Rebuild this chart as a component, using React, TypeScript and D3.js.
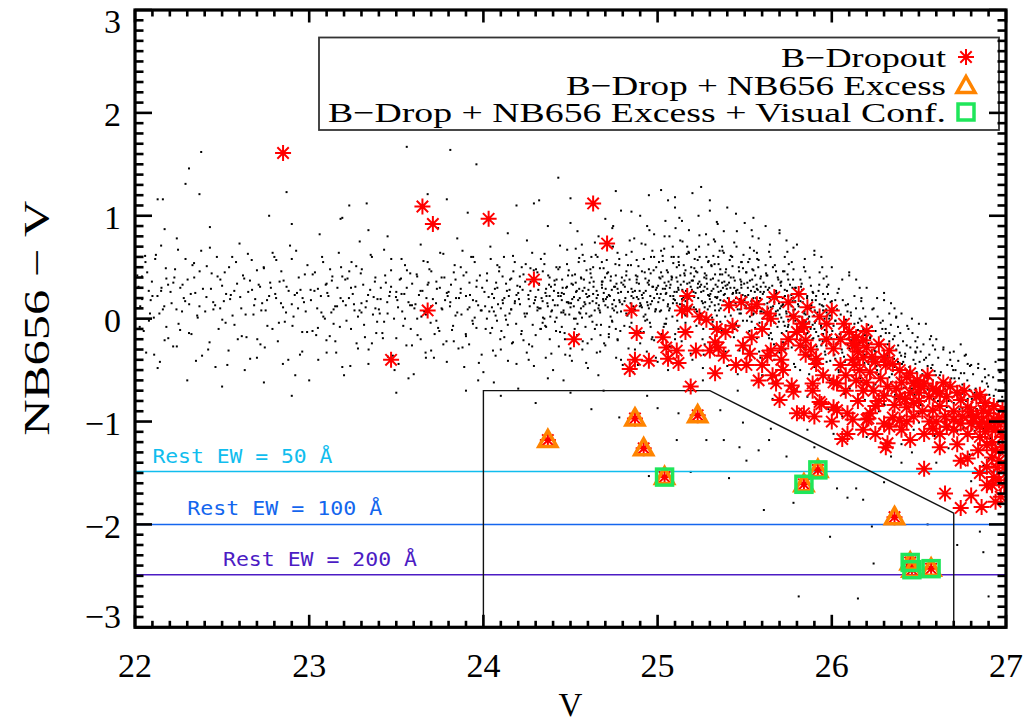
import React from "react";
import * as d3 from "d3";

// ---------- data (V, NB656 - V) ----------
const xTicks = [22, 23, 24, 25, 26, 27];
const yTicks = [-3, -2, -1, 0, 1, 2, 3];

// background field galaxies, flat [V, colour, V, colour, ...]
const fieldBright = [
22.02,0.31,22.05,-0.12,22.07,0.45,22.09,0.18,22.11,-0.35,22.12,0.62,22.14,0.05,22.15,0.27,22.17,-0.21,22.18,0.39,22.03,0.12,22.06,0.55,22.1,0.22,22.13,-0.48,22.16,0.09,22.19,0.33,22.08,-0.02,22.04,0.41,22.15,0.71,22.18,-0.08,
22.21,0.15,22.23,0.48,22.24,-0.27,22.26,0.3,22.27,0.07,22.29,0.58,22.31,-0.14,22.32,0.24,22.34,0.4,22.35,-0.41,22.37,0.12,22.38,0.66,22.22,0.35,22.25,-0.05,22.28,0.2,22.3,-0.6,22.33,0.52,22.36,0.01,22.39,0.29,22.24,0.78,
22.41,0.21,22.42,-0.3,22.44,0.44,22.45,0.09,22.47,0.6,22.48,-0.1,22.5,0.32,22.51,0.17,22.53,-0.45,22.54,0.5,22.56,0.03,22.57,0.27,22.59,-0.2,22.43,0.69,22.46,0.13,22.49,0.38,22.52,-0.04,22.55,0.23,22.58,0.55,22.5,-0.66,
22.61,0.1,22.62,0.42,22.64,-0.18,22.65,0.26,22.67,0.57,22.68,0.04,22.7,-0.38,22.71,0.33,22.73,0.15,22.74,0.49,22.76,-0.07,22.77,0.22,22.79,0.64,22.63,-0.5,22.66,0.37,22.69,0.19,22.72,-0.25,22.75,0.08,22.78,0.3,22.6,0.73,22.7,0.47,22.74,-0.62,
22.81,0.2,22.82,-0.22,22.84,0.46,22.85,0.11,22.87,0.31,22.88,-0.4,22.9,0.58,22.91,0.02,22.93,0.25,22.94,0.4,22.96,-0.13,22.97,0.16,22.99,0.52,22.83,0.36,22.86,-0.03,22.89,0.71,22.92,-0.55,22.95,0.28,22.98,0.07,22.8,0.6,22.9,0.14,22.96,-0.32,
23.01,0.18,23.02,0.43,23.04,-0.16,23.05,0.29,23.07,0.06,23.08,0.55,23.1,-0.33,23.11,0.22,23.13,0.37,23.14,-0.05,23.16,0.12,23.17,0.64,23.19,-0.47,23.03,0.27,23.06,0.82,23.09,0.0,23.12,0.48,23.15,-0.22,23.18,0.2,23.0,-0.6,23.1,0.34,23.14,0.09,23.19,0.41,23.05,-0.09,
23.21,0.13,23.22,0.39,23.24,-0.1,23.25,0.24,23.27,0.51,23.28,-0.29,23.3,0.06,23.31,0.33,23.33,0.17,23.34,-0.44,23.36,0.6,23.37,0.21,23.39,-0.03,23.23,0.46,23.26,0.08,23.29,0.75,23.32,-0.18,23.35,0.28,23.38,0.4,23.2,-0.55,23.3,0.15,23.34,0.86,23.36,-0.24,23.24,0.3,23.28,0.02,23.38,0.1,
23.41,0.19,23.42,-0.14,23.44,0.35,23.45,0.05,23.47,0.47,23.48,-0.36,23.5,0.26,23.51,0.11,23.53,0.58,23.54,-0.07,23.56,0.3,23.57,0.16,23.59,-0.26,23.43,0.67,23.46,0.22,23.49,-0.5,23.52,0.38,23.55,0.0,23.58,0.44,23.4,0.09,23.45,0.8,23.5,-0.19,23.53,0.24,23.57,-0.58,23.59,0.13,23.47,0.31,23.43,-0.03,23.55,0.52,
23.61,0.14,23.62,0.41,23.64,-0.2,23.65,0.27,23.67,0.04,23.68,0.55,23.7,-0.31,23.71,0.19,23.73,0.36,23.74,-0.09,23.76,0.1,23.77,0.63,23.79,-0.42,23.63,0.23,23.66,0.07,23.69,0.48,23.72,-0.15,23.75,0.3,23.78,0.18,23.6,-0.54,23.64,0.72,23.7,0.12,23.73,-0.02,23.76,0.4,23.79,0.25,23.62,0.0,23.67,-0.38,23.74,0.88,23.77,-0.25,23.68,0.33,
23.81,0.16,23.82,-0.11,23.84,0.38,23.85,0.06,23.87,0.5,23.88,-0.28,23.9,0.22,23.91,0.09,23.93,0.6,23.94,-0.05,23.96,0.31,23.97,0.13,23.99,-0.35,23.83,0.45,23.86,0.2,23.89,-0.47,23.92,0.35,23.95,0.01,23.98,0.42,23.8,0.26,23.85,0.78,23.9,-0.17,23.94,0.18,23.97,-0.6,23.99,0.08,23.87,0.29,23.83,-0.22,23.95,0.55,23.92,0.11,23.88,0.66,23.96,-0.09,23.84,0.03
];

const fieldBright2 = [
22.013,0.42,22.027,-0.08,22.041,0.19,22.058,0.61,22.064,-0.33,22.079,0.27,22.086,0.05,22.097,0.36,
22.191,-0.19,22.177,0.49,22.168,0.12,22.152,0.3,22.143,-0.42,22.129,0.22,22.116,0.58,22.108,0.01,
22.204,0.26,22.219,-0.27,22.226,0.4,22.238,0.09,22.247,0.67,22.259,-0.11,22.273,0.33,22.288,0.17,
22.385,-0.36,22.371,0.46,22.357,0.03,22.346,0.25,22.339,0.54,22.324,-0.15,22.311,0.14,22.302,0.38,
22.403,0.07,22.412,0.51,22.428,-0.23,22.436,0.29,22.449,0.16,22.462,-0.47,22.474,0.41,22.489,0.1,
22.586,0.34,22.571,-0.06,22.558,0.6,22.546,0.19,22.537,-0.31,22.523,0.24,22.515,0.45,22.501,-0.01,
22.604,0.21,22.613,-0.17,22.627,0.39,22.635,0.04,22.648,0.63,22.661,-0.39,22.672,0.28,22.684,0.13,
22.789,-0.1,22.776,0.35,22.758,0.18,22.745,-0.28,22.739,0.5,22.725,0.08,22.718,0.31,22.702,-0.2,
22.805,0.24,22.811,0.57,22.826,-0.04,22.838,0.15,22.849,-0.44,22.853,0.37,22.867,0.06,22.882,0.27,
22.988,-0.13,22.975,0.43,22.962,0.2,22.947,-0.35,22.936,0.1,22.925,0.66,22.917,0.23,22.904,-0.07,
23.008,0.28,23.019,-0.12,23.033,0.45,23.046,0.1,23.052,-0.4,23.067,0.22,23.074,0.6,23.081,0.02,23.095,0.33,23.099,-0.21,
23.194,0.17,23.183,0.5,23.176,-0.08,23.162,0.3,23.155,-0.33,23.149,0.12,23.133,0.41,23.127,0.06,23.118,-0.17,23.104,0.25,
23.207,0.38,23.214,-0.02,23.228,0.2,23.236,-0.46,23.243,0.55,23.257,0.14,23.265,0.31,23.272,-0.24,23.289,0.08,23.296,0.44,
23.392,0.19,23.385,-0.14,23.377,0.36,23.366,0.04,23.353,0.62,23.341,-0.3,23.338,0.23,23.324,0.11,23.315,-0.06,23.302,0.48,
23.405,0.05,23.411,0.3,23.423,-0.19,23.436,0.42,23.448,0.16,23.452,-0.37,23.464,0.26,23.471,0.58,23.487,0.0,23.498,0.21,
23.591,0.34,23.583,-0.1,23.579,0.13,23.561,0.47,23.558,-0.26,23.546,0.24,23.534,0.07,23.527,0.39,23.513,-0.44,23.506,0.18,
23.604,0.1,23.617,0.43,23.622,-0.16,23.639,0.27,23.644,0.02,23.656,0.56,23.668,-0.33,23.673,0.2,23.685,0.35,23.697,-0.04,
23.795,0.22,23.788,-0.22,23.776,0.4,23.764,0.09,23.752,0.64,23.747,-0.12,23.733,0.29,23.728,0.15,23.716,-0.38,23.701,0.46,
23.808,0.12,23.814,0.33,23.826,-0.07,23.835,0.52,23.843,0.2,23.857,-0.29,23.869,0.25,23.874,0.04,23.886,0.42,23.899,-0.15,
23.993,0.3,23.985,0.08,23.974,-0.43,23.962,0.37,23.959,0.17,23.941,0.6,23.937,-0.02,23.923,0.23,23.918,-0.25,23.902,0.45
];

const fieldMid = [
24.01,0.12,24.02,0.37,24.04,-0.14,24.05,0.24,24.07,0.03,24.08,0.52,24.1,-0.3,24.11,0.18,24.13,0.34,24.14,-0.06,24.16,0.09,24.17,0.61,24.19,-0.44,24.03,0.21,24.06,0.07,24.09,0.46,24.12,-0.18,24.15,0.28,24.18,0.15,24.0,-0.52,24.04,0.7,24.1,0.1,24.13,-0.01,24.16,0.39,24.19,0.23,24.02,0.0,24.07,-0.36,24.14,0.83,24.17,-0.23,24.08,0.3,24.11,0.41,24.05,-0.09,24.15,0.05,24.18,0.55,24.12,0.2,24.06,-0.62,
24.21,0.14,24.22,-0.12,24.24,0.36,24.25,0.05,24.27,0.49,24.28,-0.27,24.3,0.21,24.31,0.08,24.33,0.58,24.34,-0.04,24.36,0.29,24.37,0.12,24.39,-0.34,24.23,0.43,24.26,0.19,24.29,-0.46,24.32,0.33,24.35,0.0,24.38,0.4,24.2,0.25,24.25,0.76,24.3,-0.16,24.34,0.17,24.37,-0.58,24.39,0.07,24.27,0.27,24.23,-0.21,24.35,0.53,24.32,0.1,24.28,0.64,24.36,-0.08,24.24,0.02,24.21,0.31,24.26,-0.4,24.31,0.45,24.33,-0.1,24.38,0.22,24.29,0.15,24.22,0.5,24.37,0.9,
24.41,0.13,24.42,0.38,24.44,-0.13,24.45,0.25,24.47,0.04,24.48,0.53,24.5,-0.29,24.51,0.19,24.53,0.35,24.54,-0.05,24.56,0.1,24.57,0.62,24.59,-0.43,24.43,0.22,24.46,0.08,24.49,0.47,24.52,-0.17,24.55,0.29,24.58,0.16,24.4,-0.5,24.44,0.71,24.5,0.11,24.53,0.0,24.56,0.4,24.59,0.24,24.42,0.01,24.47,-0.35,24.54,0.85,24.57,-0.22,24.48,0.31,24.51,0.42,24.45,-0.08,24.55,0.06,24.58,0.56,24.52,0.21,24.46,-0.6,24.41,0.33,24.49,0.15,24.57,0.27,24.43,0.48,24.53,0.68,24.59,0.05,24.45,0.18,24.5,0.93,
24.61,0.15,24.62,0.4,24.64,-0.1,24.65,0.27,24.67,0.06,24.68,0.55,24.7,-0.26,24.71,0.21,24.73,0.37,24.74,-0.03,24.76,0.12,24.77,0.64,24.79,-0.4,24.63,0.24,24.66,0.1,24.69,0.49,24.72,-0.15,24.75,0.31,24.78,0.18,24.6,-0.48,24.64,0.74,24.7,0.13,24.73,0.02,24.76,0.42,24.79,0.26,24.62,0.03,24.67,-0.32,24.74,0.88,24.77,-0.2,24.68,0.33,24.71,0.44,24.65,-0.06,24.75,0.08,24.78,0.58,24.72,0.23,24.66,-0.55,24.61,0.35,24.69,0.17,24.77,0.29,24.63,0.5,24.73,0.7,24.79,0.07,24.65,0.2,24.7,0.97,24.74,0.14,24.68,0.36,24.76,-0.1,24.62,0.6,
24.81,0.17,24.82,0.42,24.84,-0.08,24.85,0.29,24.87,0.08,24.88,0.57,24.9,-0.24,24.91,0.23,24.93,0.39,24.94,-0.01,24.96,0.14,24.97,0.66,24.99,-0.38,24.83,0.26,24.86,0.12,24.89,0.51,24.92,-0.13,24.95,0.33,24.98,0.2,24.8,-0.45,24.84,0.76,24.9,0.15,24.93,0.04,24.96,0.44,24.99,0.28,24.82,0.05,24.87,-0.3,24.94,0.9,24.97,-0.18,24.88,0.35,24.91,0.46,24.85,-0.04,24.95,0.1,24.98,0.6,24.92,0.25,24.86,-0.52,24.81,0.37,24.89,0.19,24.97,0.31,24.83,0.52,24.93,0.72,24.99,0.09,24.85,0.22,24.9,1.0,24.94,0.16,24.88,0.38,24.96,-0.08,24.82,0.62,24.87,0.27,24.95,0.48,24.91,0.11,24.98,0.82,
25.01,0.2,25.02,0.45,25.04,-0.05,25.05,0.32,25.07,0.1,25.08,0.6,25.1,-0.2,25.11,0.26,25.13,0.42,25.14,0.02,25.16,0.17,25.17,0.7,25.19,-0.34,25.03,0.29,25.06,0.14,25.09,0.54,25.12,-0.1,25.15,0.36,25.18,0.22,25.0,-0.42,25.04,0.8,25.1,0.18,25.13,0.07,25.16,0.47,25.19,0.31,25.02,0.08,25.07,-0.27,25.14,0.95,25.17,-0.14,25.08,0.38,25.11,0.5,25.05,0.0,25.15,0.13,25.18,0.64,25.12,0.28,25.06,-0.5,25.01,0.4,25.09,0.22,25.17,0.34,25.03,0.56,25.13,0.76,25.19,0.12,25.05,0.25,25.1,1.08,25.14,0.19,25.08,0.41,25.16,-0.04,25.02,0.66,25.07,0.3,25.15,0.52,25.11,0.15,25.18,0.86,25.04,0.35,25.12,0.6,25.19,0.44,25.06,1.15,
25.21,0.21,25.22,0.46,25.24,-0.04,25.25,0.33,25.27,0.11,25.28,0.6,25.3,-0.18,25.31,0.27,25.33,0.43,25.34,0.03,25.36,0.18,25.37,0.7,25.39,-0.32,25.23,0.3,25.26,0.15,25.29,0.55,25.32,-0.08,25.35,0.37,25.38,0.23,25.2,-0.4,25.24,0.81,25.3,0.19,25.33,0.08,25.36,0.48,25.39,0.32,25.22,0.09,25.27,-0.25,25.34,0.94,25.37,-0.13,25.28,0.39,25.31,0.51,25.25,0.01,25.35,0.14,25.38,0.64,25.32,0.29,25.26,-0.48,25.21,0.41,25.29,0.23,25.37,0.35,25.23,0.57,25.33,0.75,25.39,0.13,25.25,0.26,25.3,1.05,25.34,0.2,25.28,0.42,25.36,-0.03,25.22,0.67,25.27,0.31,25.35,0.53,25.31,0.16,25.38,0.85,25.24,0.36,25.32,0.61,25.39,0.45,25.26,-0.6,25.29,0.0,25.35,0.26
];

const fieldMid2 = [
24.006,0.26,24.013,-0.1,24.021,0.44,24.034,0.07,24.042,0.58,24.055,-0.31,24.061,0.2,24.073,0.35,24.078,-0.02,24.084,0.14,24.092,0.5,24.097,-0.2,24.066,0.29,24.049,0.11,
24.195,0.32,24.188,-0.05,24.181,0.17,24.172,0.46,24.164,-0.24,24.159,0.09,24.153,0.38,24.146,0.22,24.141,-0.41,24.135,0.27,24.126,0.03,24.118,0.6,24.112,0.15,24.103,-0.12,
24.204,0.19,24.209,0.41,24.217,-0.15,24.225,0.28,24.236,0.05,24.243,0.53,24.249,-0.33,24.258,0.23,24.266,0.12,24.271,0.36,24.283,-0.06,24.289,0.47,24.296,0.18,24.262,-0.25,
24.394,0.08,24.388,0.31,24.381,-0.2,24.372,0.42,24.367,0.15,24.358,-0.38,24.356,0.25,24.351,0.63,24.342,0.01,24.334,0.2,24.327,-0.1,24.319,0.34,24.311,0.11,24.302,0.48,
24.405,0.27,24.411,-0.03,24.419,0.5,24.426,0.13,24.433,-0.27,24.444,0.22,24.452,0.38,24.459,0.06,24.466,-0.14,24.475,0.3,24.481,0.67,24.487,0.16,24.496,-0.36,24.462,0.24,
24.597,0.21,24.592,0.47,24.586,-0.08,24.58,0.3,24.574,0.12,24.568,-0.3,24.562,0.39,24.556,0.05,24.55,0.59,24.544,0.18,24.538,-0.16,24.532,0.26,24.526,0.43,24.52,0.0,24.514,0.33,24.508,-0.41,24.503,0.15,24.565,0.72,
24.603,0.28,24.609,0.02,24.615,0.44,24.621,-0.2,24.627,0.17,24.633,0.36,24.639,0.08,24.645,0.62,24.651,-0.33,24.657,0.23,24.663,0.13,24.669,0.49,24.675,-0.06,24.681,0.3,24.687,0.19,24.693,-0.24,24.698,0.4,24.661,0.8,
24.797,0.14,24.792,0.35,24.786,-0.12,24.78,0.52,24.774,0.25,24.768,0.06,24.762,-0.38,24.756,0.31,24.75,0.18,24.744,0.7,24.738,-0.02,24.732,0.41,24.726,0.22,24.72,-0.18,24.714,0.11,24.708,0.57,24.702,0.29,24.745,0.9,
24.803,0.33,24.809,-0.07,24.815,0.2,24.821,0.46,24.827,0.03,24.833,-0.29,24.839,0.38,24.845,0.15,24.851,0.65,24.857,0.26,24.863,-0.14,24.869,0.09,24.875,0.42,24.881,0.21,24.887,-0.45,24.893,0.34,24.898,0.12,24.866,0.78,
24.997,0.24,24.992,0.5,24.986,0.07,24.98,-0.21,24.974,0.31,24.968,0.17,24.962,0.6,24.956,-0.04,24.95,0.37,24.944,0.13,24.938,-0.32,24.932,0.27,24.926,0.45,24.92,0.02,24.914,0.2,24.908,0.73,24.902,-0.13,24.953,0.86,
25.003,0.32,25.008,0.55,25.013,0.07,25.018,0.24,25.023,-0.15,25.028,0.41,25.033,0.18,25.038,0.68,25.043,0.29,25.048,-0.05,25.053,0.47,25.058,0.12,25.063,0.36,25.068,0.8,25.073,0.22,25.078,-0.28,25.083,0.4,25.088,0.15,25.093,0.6,25.097,0.26,25.045,0.95,25.085,0.02,
25.197,0.28,25.193,0.5,25.188,0.1,25.183,0.35,25.178,-0.1,25.173,0.19,25.168,0.63,25.163,0.27,25.158,0.04,25.153,0.44,25.148,0.21,25.143,0.75,25.138,-0.22,25.133,0.33,25.128,0.14,25.123,0.52,25.118,0.3,25.113,-0.02,25.108,0.4,25.103,0.88,25.125,0.98,25.175,0.23,
25.203,0.37,25.208,0.11,25.213,0.58,25.218,0.25,25.223,-0.07,25.228,0.45,25.233,0.2,25.238,0.7,25.243,0.31,25.248,0.05,25.253,0.5,25.258,-0.2,25.263,0.27,25.268,0.4,25.273,0.16,25.278,0.82,25.283,0.34,25.288,0.09,25.293,0.56,25.297,0.22,25.235,1.0,25.265,-0.35,
25.397,0.29,25.393,0.48,25.388,0.02,25.383,0.36,25.378,0.17,25.373,0.66,25.368,-0.12,25.363,0.27,25.358,0.43,25.353,0.08,25.348,0.6,25.343,0.21,25.338,-0.25,25.333,0.33,25.328,0.13,25.323,0.77,25.318,0.39,25.313,0.01,25.308,0.52,25.303,0.24,25.345,0.92,25.375,0.3,
25.403,0.2,25.408,0.42,25.413,-0.04,25.418,0.3,25.423,0.11,25.428,0.6,25.433,0.25,25.438,-0.18,25.443,0.37,25.448,0.15,25.453,0.7,25.458,0.28,25.463,-0.08,25.468,0.46,25.473,0.19,25.478,0.05,25.483,0.55,25.488,0.23,25.493,-0.3,25.497,0.34,25.455,0.85,25.475,0.38
];

const fieldCore = [
24.315,0.28,24.328,0.1,24.341,0.46,24.355,-0.07,24.362,0.22,24.377,0.33,24.384,0.02,24.399,0.18,
24.408,0.37,24.417,-0.12,24.429,0.25,24.438,0.5,24.447,0.06,24.455,0.3,24.468,-0.2,24.479,0.16,24.486,0.42,24.493,0.04,
24.506,0.34,24.519,0.12,24.524,-0.1,24.536,0.27,24.547,0.55,24.553,0.2,24.566,0.01,24.577,0.38,24.585,0.14,24.598,-0.24,
24.607,0.22,24.614,0.48,24.626,-0.03,24.632,0.31,24.648,0.15,24.655,0.6,24.667,0.08,24.672,-0.16,24.684,0.36,24.691,0.25,
24.703,0.19,24.716,0.45,24.723,-0.08,24.737,0.28,24.741,0.1,24.758,0.53,24.764,0.34,24.771,-0.21,24.783,0.16,24.795,0.4,
24.812,0.31,24.834,0.05,24.847,0.52,24.861,0.2,24.879,-0.12,24.884,0.41,24.897,0.27,24.905,0.13,24.921,0.58,24.929,-0.02,24.943,0.35,24.958,0.22,24.966,-0.2,24.977,0.47,24.989,0.09,24.995,0.3,
25.004,0.16,25.016,0.39,25.029,0.61,25.035,-0.08,25.047,0.24,25.059,0.45,25.066,0.08,25.074,0.33,25.087,0.7,25.092,0.19,25.101,-0.15,25.114,0.36,25.121,0.55,25.137,0.11,25.142,0.28,25.156,0.42,25.161,0.03,25.177,0.65,25.182,0.2,25.196,0.37,
25.206,0.26,25.211,0.49,25.226,0.07,25.232,0.34,25.241,0.6,25.254,0.17,25.262,-0.1,25.271,0.44,25.285,0.29,25.291,0.72,25.299,0.12,25.305,0.38,25.316,-0.03,25.327,0.53,25.331,0.21,25.344,0.31,25.356,0.66,25.362,0.1,25.371,0.43,25.386,0.24,25.395,-0.14,
25.401,0.33,25.414,0.57,25.422,0.16,25.436,0.4,25.441,-0.06,25.452,0.25,25.466,0.5,25.474,0.09,25.481,0.3,25.493,0.62,25.499,0.18,
25.507,0.12,25.515,0.35,25.527,-0.12,25.536,0.27,25.544,0.48,25.551,0.05,25.566,0.2,25.572,0.58,25.585,-0.04,25.592,0.31,
25.604,0.24,25.611,-0.09,25.626,0.42,25.634,0.1,25.641,0.3,25.657,-0.2,25.662,0.5,25.679,0.07,25.684,0.19,25.696,-0.03,
25.705,0.35,25.717,0.13,25.725,-0.26,25.731,0.22,25.746,0.43,25.751,-0.06,25.769,0.12,25.774,0.3,25.786,-0.15,25.791,0.04,
25.806,0.14,25.814,-0.1,25.827,0.34,25.835,-0.24,25.842,0.05,25.859,0.22,25.866,-0.37,25.871,-0.03,25.887,0.18,25.894,-0.19,
25.902,0.08,25.916,-0.3,25.924,0.27,25.939,-0.05,25.946,-0.15,25.951,0.12,25.967,-0.26,25.972,0.31,25.985,0.0,25.991,-0.41
];

const fieldFaint = [
25.41,0.15,25.42,0.4,25.44,-0.1,25.45,0.27,25.47,0.05,25.48,0.55,25.5,-0.24,25.51,0.21,25.53,0.37,25.54,-0.03,25.56,0.12,25.57,0.64,25.59,-0.38,25.43,0.24,25.46,0.09,25.49,0.49,25.52,-0.14,25.55,0.31,25.58,0.17,25.4,-0.46,25.44,0.74,25.5,0.13,25.53,0.02,25.56,0.42,25.59,0.26,25.42,0.03,25.47,-0.31,25.54,0.86,25.57,-0.19,25.48,0.33,25.51,0.45,25.45,-0.05,25.55,0.08,25.58,0.57,25.52,0.23,25.46,-0.54,25.41,0.35,25.49,0.17,25.57,0.29,25.43,0.51,25.53,0.69,25.59,0.07,25.45,0.2,25.5,0.93,25.54,0.14,25.48,0.36,25.56,-0.09,25.42,0.61,25.47,0.25,25.55,0.47,25.51,0.1,25.58,0.78,25.44,0.3,25.52,0.55,25.59,0.39,25.46,-0.7,25.49,-0.02,25.55,0.2,
25.61,0.06,25.62,0.31,25.64,-0.19,25.65,0.18,25.67,-0.04,25.68,0.46,25.7,-0.33,25.71,0.12,25.73,0.28,25.74,-0.12,25.76,0.03,25.77,0.55,25.79,-0.47,25.63,0.15,25.66,0.0,25.69,0.4,25.72,-0.23,25.75,0.22,25.78,0.08,25.6,-0.55,25.64,0.65,25.7,0.04,25.73,-0.07,25.76,0.33,25.79,0.17,25.62,-0.06,25.67,-0.4,25.74,0.76,25.77,-0.28,25.68,0.24,25.71,0.36,25.65,-0.14,25.75,-0.01,25.78,0.48,25.72,0.14,25.66,-0.63,25.61,0.26,25.69,0.08,25.77,0.2,25.63,0.42,25.73,0.6,25.79,-0.02,25.65,0.11,25.7,0.83,25.74,0.05,25.68,0.27,25.76,-0.18,25.62,0.52,25.67,0.16,25.75,0.38,25.71,0.01,25.78,0.69,25.64,0.21,25.72,0.46,25.79,0.3,25.66,-0.78,
25.81,-0.08,25.82,0.17,25.84,-0.33,25.85,0.04,25.87,-0.18,25.88,0.32,25.9,-0.47,25.91,-0.02,25.93,0.14,25.94,-0.26,25.96,-0.11,25.97,0.41,25.99,-0.6,25.83,0.01,25.86,-0.14,25.89,0.26,25.92,-0.37,25.95,0.08,25.98,-0.06,25.8,-0.68,25.84,0.5,25.9,-0.1,25.93,-0.21,25.96,0.19,25.99,0.03,25.82,-0.2,25.87,-0.54,25.94,0.6,25.97,-0.42,25.88,0.1,25.91,0.22,25.85,-0.28,25.95,-0.15,25.98,0.33,25.92,0.0,25.86,-0.76,25.81,0.12,25.89,-0.06,25.97,0.06,25.83,0.28,25.93,0.45,25.99,-0.16,25.85,-0.03,25.9,0.66,25.94,-0.09,25.88,0.13,25.96,-0.32,25.82,0.38,25.87,0.02,25.95,0.24,25.91,-0.13,25.98,-0.88,
26.01,-0.27,26.02,-0.02,26.04,-0.52,26.05,-0.15,26.07,-0.37,26.08,0.13,26.1,-0.66,26.11,-0.21,26.13,-0.05,26.14,-0.45,26.16,-0.3,26.17,0.2,26.19,-0.79,26.03,-0.18,26.06,-0.33,26.09,0.07,26.12,-0.56,26.15,-0.11,26.18,-0.25,26.0,-0.87,26.04,0.29,26.1,-0.29,26.13,-0.4,26.16,0.0,26.19,-0.16,26.02,-0.39,26.07,-0.73,26.14,0.38,26.17,-0.61,26.08,-0.09,26.11,0.03,26.05,-0.47,26.15,-0.34,26.18,0.1,26.12,-0.19,26.06,-0.95,26.01,-0.07,26.09,-0.25,26.17,-0.13,26.03,0.09,26.13,0.22,26.19,-0.35,26.05,-0.22,26.1,0.45,26.14,-0.28,26.08,-0.06,26.16,-0.51,26.02,0.18,
26.21,-0.44,26.22,-0.19,26.24,-0.69,26.25,-0.32,26.27,-0.54,26.28,-0.04,26.3,-0.83,26.31,-0.38,26.33,-0.22,26.34,-0.62,26.36,-0.47,26.37,0.02,26.39,-0.96,26.23,-0.35,26.26,-0.5,26.29,-0.1,26.32,-0.73,26.35,-0.28,26.38,-0.42,26.2,-1.04,26.24,0.1,26.3,-0.46,26.33,-0.57,26.36,-0.17,26.39,-0.33,26.22,-0.56,26.27,-0.9,26.34,0.15,26.37,-0.78,26.28,-0.26,26.31,-0.14,26.25,-0.64,26.35,-0.51,26.38,-0.08,26.32,-0.36,26.26,-1.12,26.21,-0.24,26.29,-0.42,26.37,-0.3,26.23,-0.08,26.33,0.05,26.39,-0.52,26.25,-0.39,26.3,0.25,
26.41,-0.62,26.42,-0.37,26.44,-0.87,26.45,-0.5,26.47,-0.72,26.48,-0.22,26.5,-1.01,26.51,-0.56,26.53,-0.4,26.54,-0.8,26.56,-0.65,26.57,-0.17,26.59,-1.14,26.43,-0.53,26.46,-0.68,26.49,-0.28,26.52,-0.91,26.55,-0.46,26.58,-0.6,26.4,-1.22,26.44,-0.1,26.5,-0.64,26.53,-0.75,26.56,-0.35,26.59,-0.51,26.42,-0.74,26.47,-1.08,26.54,-0.05,26.57,-0.96,26.48,-0.44,26.51,-0.32,26.45,-0.82,26.55,-0.69,26.58,-0.26,26.52,-0.54,26.46,-1.3,26.41,-0.42,26.49,-0.6,26.57,-0.48,26.43,-0.26,
26.61,-0.8,26.62,-0.55,26.64,-1.05,26.65,-0.68,26.67,-0.9,26.68,-0.4,26.7,-1.19,26.71,-0.74,26.73,-0.58,26.74,-0.98,26.76,-0.83,26.77,-0.35,26.79,-1.32,26.63,-0.71,26.66,-0.86,26.69,-0.46,26.72,-1.09,26.75,-0.64,26.78,-0.78,26.6,-1.4,26.64,-0.3,26.7,-0.82,26.73,-0.93,26.76,-0.53,26.79,-0.69,26.62,-0.92,26.67,-1.26,26.74,-0.25,26.77,-1.14,26.68,-0.62,26.71,-0.5,26.65,-1.0,26.75,-0.87,26.78,-0.44,
26.81,-0.97,26.82,-0.72,26.84,-1.22,26.85,-0.85,26.87,-1.07,26.88,-0.57,26.9,-1.36,26.91,-0.91,26.93,-0.75,26.94,-1.15,26.96,-1.0,26.97,-0.52,26.99,-1.49,26.83,-0.88,26.86,-1.03,26.89,-0.63,26.92,-1.26,26.95,-0.81,26.98,-0.95,26.8,-1.58,26.84,-0.48,26.9,-0.99,26.93,-1.1,26.96,-0.7,26.99,-0.86,26.82,-1.09,26.87,-1.43,26.94,-0.42,26.97,-1.31,26.88,-0.79
];

const fieldFaint2 = [
25.503,0.22,25.508,0.45,25.513,-0.02,25.518,0.3,25.523,0.1,25.528,0.58,25.533,-0.2,25.538,0.17,25.543,0.38,25.548,0.04,25.553,0.66,25.558,0.26,25.563,-0.1,25.568,0.33,25.573,0.12,25.578,0.5,25.583,-0.32,25.588,0.2,25.593,0.41,25.597,0.07,25.545,0.8,25.575,0.28,
25.697,0.15,25.693,0.38,25.688,-0.08,25.683,0.25,25.678,0.03,25.673,0.52,25.668,-0.25,25.663,0.12,25.658,0.32,25.653,-0.02,25.648,0.6,25.643,0.2,25.638,-0.16,25.633,0.28,25.628,0.06,25.623,0.44,25.618,-0.38,25.613,0.14,25.608,0.35,25.603,0.0,25.645,0.72,25.675,0.22,
25.703,0.1,25.708,0.32,25.713,-0.14,25.718,0.2,25.723,-0.03,25.728,0.46,25.733,-0.3,25.738,0.07,25.743,0.27,25.748,-0.08,25.753,0.53,25.758,0.14,25.763,-0.22,25.768,0.23,25.773,0.01,25.778,0.38,25.783,-0.44,25.788,0.09,25.793,0.3,25.797,-0.05,25.745,0.65,25.775,0.17,
25.897,0.03,25.893,0.25,25.888,-0.2,25.883,0.13,25.878,-0.1,25.873,0.4,25.868,-0.36,25.863,0.0,25.858,0.2,25.853,-0.15,25.848,0.46,25.843,0.07,25.838,-0.28,25.833,0.16,25.828,-0.06,25.823,0.31,25.818,-0.5,25.813,0.02,25.808,0.23,25.803,-0.12,25.845,0.58,25.875,0.1,
25.903,-0.04,25.908,0.18,25.913,-0.27,25.918,0.06,25.923,-0.17,25.928,0.33,25.933,-0.43,25.938,-0.07,25.943,0.13,25.948,-0.22,25.953,0.39,25.958,0.0,25.963,-0.35,25.968,0.09,25.973,-0.13,25.978,0.24,25.983,-0.57,25.988,-0.05,25.993,0.16,25.997,-0.19,25.945,0.5,25.975,0.03,
26.003,-0.12,26.009,0.1,26.015,-0.35,26.021,-0.02,26.027,-0.24,26.033,0.25,26.039,-0.5,26.045,-0.15,26.051,0.04,26.057,-0.3,26.063,0.18,26.069,-0.08,26.075,-0.42,26.081,-0.01,26.087,-0.2,26.093,0.14,26.098,-0.6,26.06,0.38,
26.198,-0.2,26.193,0.02,26.187,-0.43,26.181,-0.1,26.175,-0.32,26.169,0.17,26.163,-0.58,26.157,-0.23,26.151,-0.04,26.145,-0.38,26.139,0.1,26.133,-0.16,26.127,-0.5,26.121,-0.09,26.115,-0.28,26.109,0.06,26.103,-0.68,26.16,0.3,
26.203,-0.28,26.209,-0.06,26.215,-0.51,26.221,-0.18,26.227,-0.4,26.233,0.09,26.239,-0.66,26.245,-0.31,26.251,-0.12,26.257,-0.46,26.263,0.02,26.269,-0.24,26.275,-0.58,26.281,-0.17,26.287,-0.36,26.293,-0.02,26.298,-0.76,26.26,0.2,
26.398,-0.36,26.393,-0.14,26.387,-0.59,26.381,-0.26,26.375,-0.48,26.369,0.01,26.363,-0.74,26.357,-0.39,26.351,-0.2,26.345,-0.54,26.339,-0.06,26.333,-0.32,26.327,-0.66,26.321,-0.25,26.315,-0.44,26.309,-0.1,26.303,-0.84,26.36,0.1,
26.403,-0.44,26.409,-0.22,26.415,-0.67,26.421,-0.34,26.427,-0.56,26.433,-0.07,26.439,-0.82,26.445,-0.47,26.451,-0.28,26.457,-0.62,26.463,-0.14,26.469,-0.4,26.475,-0.74,26.481,-0.33,26.487,-0.52,26.493,-0.18,26.498,-0.92,26.46,0.0,
26.597,-0.55,26.593,-0.3,26.586,-0.78,26.578,-0.45,26.571,-0.65,26.563,-0.2,26.556,-0.9,26.548,-0.58,26.541,-0.38,26.533,-0.72,26.526,-0.25,26.518,-0.5,26.511,-0.84,26.504,-0.42,
26.604,-0.62,26.611,-0.38,26.618,-0.86,26.626,-0.52,26.633,-0.72,26.641,-0.28,26.648,-0.98,26.656,-0.65,26.663,-0.45,26.671,-0.8,26.678,-0.33,26.686,-0.58,26.693,-0.92,26.697,-0.5,
26.797,-0.7,26.793,-0.46,26.786,-0.94,26.778,-0.6,26.771,-0.8,26.763,-0.36,26.756,-1.06,26.748,-0.73,26.741,-0.53,26.733,-0.88,26.726,-0.41,26.718,-0.66,26.711,-1.0,26.704,-0.58,
26.804,-0.78,26.811,-0.54,26.818,-1.02,26.826,-0.68,26.833,-0.88,26.841,-0.44,26.848,-1.14,26.856,-0.81,26.863,-0.61,26.871,-0.96,26.878,-0.49,26.886,-0.74,26.893,-1.08,26.897,-0.66,
26.997,-0.86,26.993,-0.62,26.986,-1.1,26.978,-0.76,26.971,-0.96,26.963,-0.52,26.956,-1.22,26.948,-0.89,26.941,-0.69,26.933,-1.04,26.926,-0.57,26.918,-0.82,26.911,-1.16,26.904,-0.74
];

const fieldOutliers = [
22.38,1.62,22.31,1.46,22.29,1.31,22.37,1.21,22.13,1.16,22.16,1.16,22.87,1.23,23.56,1.67,23.81,1.64,23.96,1.5,23.33,1.12,23.23,1.1,23.68,1.21,23.79,1.16,22.77,1.0,23.18,0.97,24.19,1.1,23.91,1.03,22.17,0.87,22.43,0.89,22.9,0.92,24.43,1.37,24.76,1.24,24.5,1.17,24.32,1.15,24.29,1.12,24.79,1.05,24.85,1.04,23.19,0.98,
24.95,1.2,25.02,1.25,25.1,1.18,25.2,1.22,25.3,1.15,25.4,1.08,25.25,1.28,25.45,1.02,25.55,0.98,25.62,0.9,25.7,0.86,25.8,0.72,25.9,0.62,26.0,0.5,26.1,0.42,26.2,0.3,26.3,0.18,26.4,0.05,26.5,-0.05,26.6,-0.2,26.7,-0.32,26.8,-0.45,26.9,-0.55,27.0,-0.68,
26.33,-0.14,26.48,-0.32,26.0,0.17,26.17,-0.02,
24.1,-0.75,24.3,-0.82,24.5,-0.72,24.62,-0.88,24.2,-0.68,23.9,-0.7,23.5,-0.72,22.9,-0.75,
24.94,-0.75,25.0,-0.87,25.12,-0.92,25.28,-1.18,25.38,-1.18,25.47,-1.25,25.51,-1.38,25.58,-1.28,25.64,-1.18,25.41,-1.55,25.61,-1.86,25.78,-1.79,26.03,-1.65,26.14,-1.65,26.09,-1.74,26.18,-1.76,26.23,-2.02,25.99,-2.12,26.24,-2.38,25.81,-2.7,26.15,-2.72,26.9,-2.7,26.72,-2.2,26.87,-2.27,26.55,-2.0,26.85,-2.07,26.3,-1.59,26.4,-1.4,26.34,-1.34,25.9,-1.25,25.74,-1.34,26.01,-1.12,25.86,-1.08,26.2,-1.15,25.49,-1.01,25.65,-1.07,25.36,-0.89,25.11,-1.18,25.19,-1.49,24.95,-1.53,24.69,-0.7,24.78,-0.96
];

// B-dropouts (red asterisks)
const dropouts = [
22.85,1.61,23.65,1.09,23.71,0.92,24.03,0.97,24.63,1.12,24.71,0.73,24.29,0.38,23.68,0.08,23.47,-0.4,24.52,-0.2,24.85,0.08,24.88,-0.14,24.84,-0.49,24.87,-0.4,24.95,-0.41,
25.17,0.22,25.17,0.09,25.14,0.08,25.03,-0.18,25.05,-0.28,25.11,-0.31,25.06,-0.39,25.12,-0.43,25.16,-0.13,25.24,0.02,25.28,-0.01,25.22,-0.31,25.33,-0.53,25.19,-0.66,25.34,-0.1,25.33,-0.23,25.35,-0.28,25.3,-0.31,25.38,-0.36,25.41,0.13,25.39,-0.13,25.43,-0.07,25.48,0.16,25.54,0.1,25.57,0.14,25.49,-0.26,25.53,-0.34,25.51,-0.45,25.54,-0.18,25.63,0.05,25.65,0.0,25.67,0.21,25.65,-0.31,25.63,-0.36,25.66,-0.55,25.68,-0.63,25.71,-0.29,25.71,-0.4,25.75,0.16,25.81,0.24,25.78,0.02,25.83,-0.05,25.8,-0.13,25.77,-0.65,25.78,-0.71,25.7,-0.79,25.82,-0.26,
25.8,-0.92,26.06,-1.17,26.09,-1.12,26.32,-1.21,26.18,-1.08,26.01,-0.86,26.09,-0.92,25.89,-0.7,25.93,-0.81,26.03,-0.63,25.91,-0.44,26.01,-0.29,26.12,-0.24,26.14,-0.18,26.18,-0.21,26.12,-0.4,26.16,-0.5,26.2,-0.62,26.24,-0.7,26.33,-0.31,26.35,-0.44,26.39,-0.5,26.43,-0.57,26.47,-0.63,26.51,-0.66,26.39,-0.76,26.43,-0.86,26.35,-0.96,26.3,-1.02,26.22,-0.92,26.56,-0.76,26.58,-0.89,26.68,-0.66,26.66,-0.76,26.74,-0.79,26.78,-0.86,26.83,-0.76,26.74,-1.02,26.81,-0.96,26.87,-0.89,26.89,-1.02,26.94,-1.08,26.96,-0.96,26.98,-1.15,26.53,-1.12,26.7,-1.08,26.78,-1.12,26.85,-1.15,26.92,-1.2,
26.0,0.08,25.93,0.02,25.86,0.11,25.97,-0.05,25.84,-0.08,25.85,-0.21,26.1,-0.13,26.13,-0.26,25.91,-0.39,26.23,-0.37,26.31,-0.45,26.45,-0.53,26.49,-0.6,25.89,-0.63,26.01,-0.62,26.14,-0.6,26.62,-0.73,26.53,-0.63,26.85,-0.74,
25.94,-0.83,26.03,-0.89,25.84,-0.92,26.21,-0.97,26.31,-1.25,26.33,-1.05,26.39,-0.99,26.58,-1.07,26.89,-1.23,26.94,-1.28,26.74,-1.38,26.78,-1.36,26.96,-1.38,26.53,-1.46,26.89,-1.44,26.93,-1.54,26.89,-1.62,26.96,-1.57,26.65,-1.7,26.8,-1.72,26.74,-1.84,26.86,-1.83,26.94,-1.78,26.97,-1.73,
26.15,-0.32,26.2,-0.28,26.25,-0.42,26.22,-0.52,26.28,-0.58,26.3,-0.38,26.18,-0.38,26.27,-0.25,26.13,-0.45,26.32,-0.66,26.4,-0.62,26.45,-0.72,26.5,-0.8,26.55,-0.55,26.6,-0.7,26.62,-0.85,26.7,-0.9,26.72,-0.72,26.8,-0.9,26.9,-0.92,26.95,-1.0,26.98,-0.88,26.88,-1.1,26.84,-1.28,26.92,-1.35,26.98,-1.25,26.99,-1.45,26.85,-1.05,26.65,-0.95,26.6,-1.0,26.47,-0.95,26.43,-1.0,
25.6,-0.1,25.72,-0.5,25.85,-0.35,25.95,-0.55,26.05,-0.45,26.08,-0.7,26.15,-0.8,26.25,-0.85,26.27,-0.8,26.2,-0.98,26.36,-0.84,26.42,-0.78,26.47,-0.82,26.52,-0.9,26.56,-1.0,26.62,-1.12,26.66,-1.05,26.7,-0.98,26.75,-0.95,26.8,-1.02,26.83,-0.95,26.86,-1.0,26.9,-1.05,26.93,-0.98,26.97,-1.1,26.99,-1.0,26.88,-0.82,26.93,-0.85,26.76,-0.7,26.64,-0.62,26.58,-0.68,26.5,-0.72,26.37,-0.68,26.3,-0.75,26.18,-0.7,26.08,-0.55,26.05,-0.2,26.2,-0.12,26.07,-0.05,25.97,-0.2,25.88,-0.3,25.75,-0.2,25.6,-0.45,25.45,-0.45,25.58,-0.6,25.9,-0.95,26.0,-1.0,26.12,-0.98,26.25,-1.12,26.4,-1.08,26.45,-1.18,26.62,-1.25,26.72,-1.22,26.95,-1.45,26.92,-1.62,26.99,-1.62,26.85,-1.5,
24.37,-1.18,24.87,-0.97,24.92,-1.26,25.23,-0.94,26.36,-1.93,25.04,-1.54,25.84,-1.61,25.92,-1.47,26.45,-2.37,26.46,-2.44,26.57,-2.43
];

// B-drop + NB656 excess (orange triangles)
const excess = [24.37,-1.18,24.87,-0.97,24.92,-1.26,25.23,-0.94,26.36,-1.93,25.04,-1.54,25.84,-1.61,25.92,-1.47,26.45,-2.37,26.46,-2.44,26.57,-2.43];
// + visual confirmation (green squares)
const visual = [25.04,-1.54,25.84,-1.61,25.92,-1.47,26.45,-2.37,26.46,-2.44,26.57,-2.43];

// selection region vertices
const selV = [24.0, 24.0, 25.3, 26.7, 26.7];
const selC = [-3, -0.7, -0.7, -1.89, -3];

// rest-frame EW lines
const ewLevels = [-1.485, -2.0, -2.49];
const ewLabels = ["Rest EW = 50 Å", "Rest EW = 100 Å", "Rest EW = 200 Å"];
const ewLabelV = [22.1, 22.3, 22.505];
const ewColors = ["#10bdee", "#1466ee", "#4c1cc4"];

const legendLabels = ["B\u2212Dropout", "B\u2212Drop + NB656 Excess", "B\u2212Drop + NB656 Excess + Visual Conf."];

// ---------- layout ----------
const W = 1034, H = 725;
const X0 = 135, X1 = 1006, Y0 = 627.3, Y1 = 10;

const pairs = (a: number[]) => {
  const out: [number, number][] = [];
  for (let i = 0; i + 1 < a.length; i += 2) out.push([a[i], a[i + 1]]);
  return out;
};

const ASTER = "M-8,0H8M0,-8V8M-5.7,-5.7L5.7,5.7M-5.7,5.7L5.7,-5.7";
const TRI = "M0,-9.5L9,6.5L-9,6.5Z";

export default function App() {
  const x = d3.scaleLinear().domain([22, 27]).range([X0, X1]);
  const y = d3.scaleLinear().domain([-3, 3]).range([Y0, Y1]);
  const field = pairs([...fieldBright, ...fieldBright2, ...fieldMid, ...fieldMid2, ...fieldCore, ...fieldFaint, ...fieldFaint2, ...fieldOutliers]);
  const drops = pairs(dropouts);
  const tris = pairs(excess);
  const sqs = pairs(visual);
  const sel = d3.line<number>().x((i) => x(selV[i])).y((i) => y(selC[i]))(d3.range(selV.length)) || "";
  const minorX = d3.range(0, 51).map((i) => 22 + i / 10);
  const minorY = d3.range(0, 61).map((i) => -3 + i / 10);
  const serif = "'Liberation Serif', 'DejaVu Serif', serif";
  const mono = "'DejaVu Sans Mono', monospace";

  const legendRows = [57, 85, 112];
  const legendStart = [781, 566, 328];
  const legendEnd = 946;
  const ewLen = [180, 195, 194];
  const ewBase = [463, 514.5, 566];

  return (
    <svg width={W} height={H} style={{ position: "fixed", left: 0, top: 0, background: "#fff" }}>
      <rect x={0} y={0} width={W} height={H} fill="#fff" />
      <defs>
        <clipPath id="plot">
          <rect x={X0} y={Y1} width={X1 - X0} height={Y0 - Y1} />
        </clipPath>
      </defs>
      <g clipPath="url(#plot)">
        {field.map(([v, c], i) => (
          <rect key={i} x={x(v) - 1} y={y(c) - 1} width={2} height={2} fill="#000" />
        ))}
        {ewLevels.map((lv, i) => (
          <line key={i} x1={X0} x2={X1} y1={y(lv)} y2={y(lv)} stroke={ewColors[i]} strokeWidth={1.5} />
        ))}
        <path d={sel} fill="none" stroke="#111" strokeWidth={1.4} />
        {drops.map(([v, c], i) => (
          <path key={i} d={ASTER} transform={`translate(${x(v)},${y(c)})`} stroke="#ff0000" strokeWidth={2} fill="none" />
        ))}
        {tris.map(([v, c], i) => (
          <path key={i} d={TRI} transform={`translate(${x(v)},${y(c)})`} stroke="#ff8400" strokeWidth={3.5} fill="none" strokeLinejoin="miter" />
        ))}
        {sqs.map(([v, c], i) => (
          <rect key={i} x={x(v) - 8} y={y(c) - 8} width={16} height={16} stroke="#1fe65a" strokeWidth={3.5} fill="none" />
        ))}
      </g>

      {ewLabels.map((t, i) => (
        <text key={i} x={x(ewLabelV[i])} y={ewBase[i]} fill={ewColors[i]}
          fontFamily={mono} fontSize={20} textLength={ewLen[i]} lengthAdjust="spacingAndGlyphs">{t}</text>
      ))}

      {/* legend */}
      <rect x={319} y={37.5} width={680} height={92.5} fill="#fff" stroke="#333" strokeWidth={1.8} />
      {legendLabels.map((t, i) => (
        <text key={i} x={legendStart[i]} y={legendRows[i] + 10} fontFamily={serif} fontSize={28} fill="#000"
          textLength={legendEnd - legendStart[i]} lengthAdjust="spacingAndGlyphs">{t}</text>
      ))}
      <path d={ASTER} transform={`translate(966,${legendRows[0]})`} stroke="#ff0000" strokeWidth={2} fill="none" />
      <path d={TRI} transform={`translate(966,${legendRows[1] + 1})`} stroke="#ff8400" strokeWidth={3.5} fill="none" />
      <rect x={958} y={legendRows[2] - 8} width={16} height={16} stroke="#1fe65a" strokeWidth={3.5} fill="none" />

      {/* ticks */}
      <g stroke="#000" strokeWidth={2.6}>
        {minorX.map((v, i) => {
          const major = Math.abs(v - Math.round(v)) < 1e-6;
          const L = major ? 12.5 : 6.5;
          return (
            <g key={i}>
              <line x1={x(v)} x2={x(v)} y1={Y0} y2={Y0 - L} />
              <line x1={x(v)} x2={x(v)} y1={Y1} y2={Y1 + L} />
            </g>
          );
        })}
        {minorY.map((c, i) => {
          const major = Math.abs(c - Math.round(c)) < 1e-6;
          const L = major ? 17 : 8.5;
          return (
            <g key={i}>
              <line x1={X0} x2={X0 + L} y1={y(c)} y2={y(c)} />
              <line x1={X1} x2={X1 - L} y1={y(c)} y2={y(c)} />
            </g>
          );
        })}
      </g>
      <rect x={X0} y={Y1} width={X1 - X0} height={Y0 - Y1} fill="none" stroke="#000" strokeWidth={3.2} />

      {/* tick labels */}
      {xTicks.map((v) => (
        <text key={v} x={x(v)} y={676.5} textAnchor="middle" fontFamily={serif} fontSize={34} fill="#000">{v}</text>
      ))}
      {yTicks.map((c) => {
        const cy = Math.min(616.5, Math.max(21.5, y(c) + 2));
        return (
          <text key={c} x={121} y={cy + 11.5} textAnchor="end" fontFamily={serif} fontSize={34} fill="#000">
            {c < 0 ? `\u2212${Math.abs(c)}` : `${c}`}
          </text>
        );
      })}

      {/* axis titles */}
      <text x={(X0 + X1) / 2} y={716} textAnchor="middle" fontFamily={serif} fontSize={33} fill="#000">V</text>
      <text transform={`translate(49,${(Y0 + Y1) / 2}) rotate(-90)`} x={-117} y={0} fontFamily={serif} fontSize={36} fill="#000"
        textLength={235} lengthAdjust="spacingAndGlyphs">NB656 {"\u2212"} V</text>
    </svg>
  );
}
